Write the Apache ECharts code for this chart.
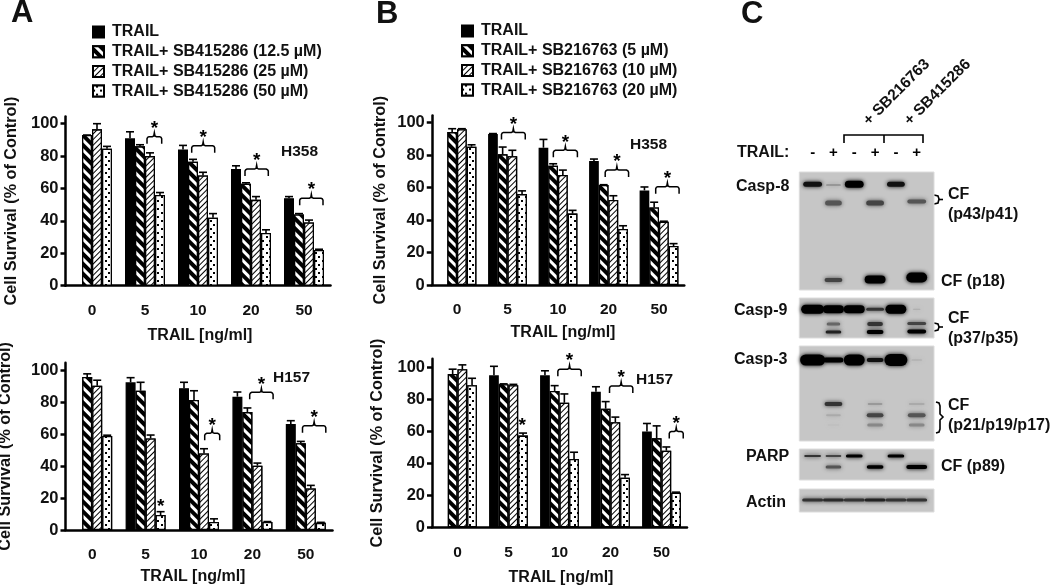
<!DOCTYPE html>
<html><head><meta charset="utf-8">
<style>html,body{margin:0;padding:0;background:#fff}#c{width:1050px;height:586px}</style>
<script src="https://cdn.jsdelivr.net/npm/echarts@6/dist/echarts.min.js"></script>
</head><body><div id="c"></div>
<script>
var doses = ['0','5','10','20','50'];
var namesA = ['TRAIL','TRAIL+ SB415286 (12.5 µM)','TRAIL+ SB415286 (25 µM)','TRAIL+ SB415286 (50 µM)'];
var namesB = ['TRAIL','TRAIL+ SB216763 (5 µM)','TRAIL+ SB216763 (10 µM)','TRAIL+ SB216763 (20 µM)'];
// values and upper error limits
var aTopV = [[null,91,84,72,54],[93,86,76.5,63,44],[96.5,80,68,53,39],[84.5,56,42,32.5,22]];
var aTopE = [[null,95,86.6,74,55],[93,87,78,63.5,44.5],[100,82,70,55,40.5],[86,57.5,44.5,34.5,22.5]];
var aBotV = [[null,92.7,89,83.7,66.5],[96,87.4,81.6,74,54.4],[90.6,57.5,48,40.4,26],[59,9.4,5,5,4.5]];
var aBotE = [[null,95.6,92.7,86.6,68.6],[98,92.7,87.4,76.6,55.6],[94,59.6,51,42,28],[59.5,11.5,7,5.3,4.8]];
var bTopV = [[null,93,84.6,76.4,58.3],[94.2,80.5,73.5,61.6,47.8],[96,79.3,67.8,52.4,39],[85.2,56,44,34.5,24]];
var bTopE = [[null,93.3,89.7,77.6,60.4],[96.3,85,74.7,61.8,51],[96.3,83,70.8,55,39.3],[86.4,58,46,36.5,25.5]];
var bBotV = [[null,95.2,95.2,84.8,60],[96,89.6,85.4,74.3,55.7],[99,89,78,65.8,48],[89,57.4,42.8,31,21.7]];
var bBotE = [[null,100.8,98,88,65],[99,89.8,88.7,78.7,63.5],[101.7,89.5,83.5,69,50.3],[93.3,59,47,33,22]];
// significance brackets: [dose index, left bar slot, right bar slot, level]
var aTopBr = [[1,1.7,3.17,92],[2,.87,3.17,86.4],[3,.9,3.23,72],[4,1.07,3.4,54]];
var aBotBr = [[2,2.07,3.57,60.7],[3,1.23,3.57,86.4],[4,1.17,3.5,65.5]];
var bTopBr = [[1,.88,3.33,94],[2,1.02,3.5,83],[3,1.16,3.57,70.8],[4,1.16,3.57,60.6]];
var bBotBr = [[2,1.33,3.74,99],[3,1.4,3.8,88.5],[4,2.3,3.74,60]];
// lone stars: [dose index, bar slot, level]
var aBotStar = [[1,3,16]];
var bBotStar = [[1,2.9,65]];
// blot panels: [top, bottom]; bands: [lane, position, lane width, thickness, gray]
var blotPanels = [[172,290],[298,338],[346,441],[449,480],[489,512]];
var blotBands = [
 [0,184.3,.95,6,'#111'],[1,185,.75,2,'#777'],[2,184.3,.95,8,'#000'],[4,184.3,.9,6,'#111'],
 [1,203,.85,6,'#555'],[3,203,.9,6,'#444'],[5,201.5,.95,5,'#555'],
 [1,280,.9,5,'#444'],[3,279.5,1.05,9,'#000'],[5,277.5,1.05,11,'#000'],
 [0,309.3,1.15,10,'#000'],[1,309.3,1.05,9,'#000'],[2,309.3,1.05,9,'#000'],[3,309.3,.9,4,'#333'],[4,309.3,1.05,10,'#000'],[5,309.3,.4,2,'#aaa'],
 [1,324,.7,4,'#666'],[3,324,.8,5,'#333'],[5,323.5,.95,4,'#444'],
 [1,332,.8,4,'#222'],[3,332,.85,5,'#000'],[5,331.5,.95,5,'#000'],
 [0,360,1.25,12,'#000'],[1,360,1,6,'#000'],[2,360,1.05,12,'#000'],[3,360,.85,5,'#111'],[4,360,1.15,13,'#000'],[5,360,.55,2,'#aaa'],
 [1,404,.9,5,'#333'],[3,404,.75,3,'#999'],[5,404,.8,3,'#aaa'],
 [1,415.3,.75,3,'#aaa'],[3,415.3,.85,5,'#444'],[5,415.3,.9,5,'#555'],
 [1,425,.6,2,'#bbb'],[3,425,.8,4,'#888'],[5,425,.8,4,'#888'],
 [0,456,.85,3,'#333'],[1,456,.8,3,'#444'],[2,456,.85,4,'#000'],[4,456,.85,4,'#000'],
 [1,467,.8,4,'#555'],[3,467,.85,4.5,'#000'],[5,467,1.05,5,'#000'],
 [0,500,1.05,4,'#333'],[1,500,1.05,4,'#2a2a2a'],[2,500,1.05,4,'#333'],[3,500,1.05,4,'#222'],[4,500,1.05,4,'#333'],[5,500,1.05,4,'#333']
];
var laneSigns = ['-','+','-','+','-','+'];

var FONT = '"Liberation Sans", Arial, sans-serif';
var wide = {symbol:'rect',symbolSize:1,dashArrayX:[1,0],dashArrayY:[4,3],rotation:Math.PI/4,color:'#000',backgroundColor:'#fff'};
var thin = {symbol:'rect',symbolSize:1,dashArrayX:[1,0],dashArrayY:[1,2.2],rotation:-Math.PI/4,color:'#000',backgroundColor:'#fff'};
var dots = {symbol:'rect',symbolSize:1,dashArrayX:[[1.6,4.4],[0,3,1.6,1.4]],dashArrayY:[1.6,1.4],rotation:0,color:'#000',backgroundColor:'#fff'};
var styles = [
 {color:'#000',borderColor:'#000',borderWidth:1.3},
 {color:'#fff',borderColor:'#000',borderWidth:1.3,decal:wide},
 {color:'#fff',borderColor:'#000',borderWidth:1.3,decal:thin},
 {color:'#fff',borderColor:'#000',borderWidth:1.3,decal:dots}
];

var panels = [
 {g:{left:65.5,top:116.4,width:265,height:169.3},max:104.5,bw:10,names:namesA,v:aTopV,e:aTopE,br:aTopBr,st:[],ng:46,xg:42,xp:[0,0,0,4]},
 {g:{left:65.5,top:362.7,width:267,height:167.3},max:105,bw:10,names:namesA,v:aBotV,e:aBotE,br:aBotBr,st:aBotStar,ng:52,xg:39,xp:[0,12,0,0]},
 {g:{left:431.75,top:115.4,width:252.5,height:169.6},max:104.5,bw:9.7,names:namesB,v:bTopV,e:bTopE,br:bTopBr,st:[],ng:43,xg:40,xp:[0,0,0,10]},
 {g:{left:432,top:358.8,width:255,height:168.5},max:105.5,bw:9.7,names:namesB,v:bBotV,e:bBotE,br:bBotBr,st:bBotStar,ng:46,xg:42,xp:[0,0,0,3]}
];
var grids=[],xAxes=[],yAxes=[],series=[];
panels.forEach(function(p,i){
 p.g.outerBoundsMode='none';
 grids.push(p.g);
 xAxes.push({type:'category',gridIndex:i,data:doses,name:'TRAIL [ng/ml]',nameLocation:'middle',nameGap:p.xg,nameMoveOverlap:false,
  nameTextStyle:{fontFamily:FONT,fontWeight:'bold',fontSize:16,color:'#111',padding:p.xp},
  axisTick:{show:false},axisLine:{lineStyle:{color:'#000',width:2.5}},
  axisLabel:{margin:17,fontFamily:FONT,fontWeight:'bold',fontSize:15.5,color:'#111',interval:0}});
 yAxes.push({type:'value',gridIndex:i,min:0,max:p.max,name:'Cell Survival (% of Control)',nameLocation:'middle',nameGap:p.ng,nameMoveOverlap:false,
  nameTextStyle:{fontFamily:FONT,fontWeight:'bold',fontSize:16.2,color:'#111'},
  splitLine:{show:false},
  axisLine:{show:true,onZero:false,lineStyle:{color:'#000',width:2.5}},
  axisTick:{show:true,length:5,customValues:[0,20,40,60,80,100],lineStyle:{color:'#000',width:2.5}},
  axisLabel:{margin:7,fontFamily:FONT,fontWeight:'bold',fontSize:16.5,color:'#111',customValues:[0,20,40,60,80,100]}});
 p.v.forEach(function(vals,s){
  series.push({type:'bar',name:p.names[s],xAxisIndex:i,yAxisIndex:i,barWidth:p.bw,barGap:'0%',data:vals,itemStyle:styles[s],silent:true,animation:false,z:2});
 });
 // error bars
 p.v.forEach(function(vals,s){
  var d=[];vals.forEach(function(v,c){if(v!=null)d.push([c,v,p.e[s][c]]);});
  series.push({type:'custom',xAxisIndex:i,yAxisIndex:i,silent:true,animation:false,z:1,data:d,encode:{x:0,y:[1,2]},clip:false,
   renderItem:function(params,api){
    var a=api.coord([api.value(0),api.value(1)]),b=api.coord([api.value(0),api.value(2)]);
    var x=a[0]+(s-1.5)*p.bw;
    return {type:'group',children:[
     {type:'line',shape:{x1:x,y1:a[1],x2:x,y2:b[1]},style:{stroke:'#000',lineWidth:1.6}},
     {type:'line',shape:{x1:x-4,y1:b[1],x2:x+4,y2:b[1]},style:{stroke:'#000',lineWidth:1.6}}]};
   }});
 });
 // brackets
 series.push({type:'custom',xAxisIndex:i,yAxisIndex:i,silent:true,animation:false,z:3,data:p.br,encode:{x:0,y:3},clip:false,
  renderItem:function(params,api){
   var c=api.coord([api.value(0),api.value(3)]);
   var L=c[0]+(api.value(1)-1.5)*p.bw,R=c[0]+(api.value(2)-1.5)*p.bw,y=c[1],m=(L+R)/2;
   var pts=[[L,y+7],[L,y+2],[L+.7,y+.7],[L+2,y],[m-2,y],[m-.6,y-.7],[m,y-4],[m+.6,y-.7],[m+2,y],[R-2,y],[R-.7,y+.7],[R,y+2],[R,y+7]];
   return {type:'group',children:[
    {type:'polyline',shape:{points:pts},style:{stroke:'#000',lineWidth:1.5,fill:null}},
    {type:'text',style:{x:m,y:y-8,text:'*',fill:'#000',font:'bold 19px '+FONT,align:'center',verticalAlign:'middle'}}]};
  }});
 if(p.st.length) series.push({type:'custom',xAxisIndex:i,yAxisIndex:i,silent:true,animation:false,z:3,data:p.st,encode:{x:0,y:2},clip:false,
  renderItem:function(params,api){
   var c=api.coord([api.value(0),api.value(2)]);
   return {type:'text',style:{x:c[0]+(api.value(1)-1.5)*p.bw,y:c[1]+2,text:'*',fill:'#000',font:'bold 19px '+FONT,align:'center',verticalAlign:'middle'}};
  }});
});
// blot grid: lanes across, migration position down
var bi=panels.length;
grids.push({left:799.3,top:0,width:134.7,height:586,outerBoundsMode:'none'});
xAxes.push({type:'value',gridIndex:bi,min:-.64,max:5.83,show:false});
yAxes.push({type:'value',gridIndex:bi,min:0,max:586,inverse:true,show:false});
series.push({type:'custom',xAxisIndex:bi,yAxisIndex:bi,silent:true,animation:false,z:1,data:blotPanels,encode:{y:[0,1]},clip:false,
 renderItem:function(params,api){
  var a=api.coord([-.64,api.value(0)]),b=api.coord([5.83,api.value(1)]);
  return {type:'rect',shape:{x:a[0],y:a[1],width:b[0]-a[0],height:b[1]-a[1]},style:{fill:'#c6c6c6',stroke:'#dcdcdc',lineWidth:1}};
 }});
series.push({type:'custom',xAxisIndex:bi,yAxisIndex:bi,silent:true,animation:false,z:2,
 data:blotBands.map(function(b){return b.slice(0,4);}),encode:{x:0,y:1},clip:false,
 renderItem:function(params,api){
  var gray=blotBands[params.dataIndex][4];
  var l=api.value(0),w=api.value(2);
  var a=api.coord([l-w/2,api.value(1)]),b=api.coord([l+w/2,api.value(1)]),h=api.value(3);
  return {type:'rect',shape:{x:a[0]+.5,y:a[1]-h/2+.5,width:b[0]-a[0]-1,height:h-1,r:h/2},style:{fill:gray,shadowColor:gray,shadowBlur:4}};
 }});
// lane sign labels
series.push({type:'custom',xAxisIndex:bi,yAxisIndex:bi,silent:true,animation:false,z:3,
 data:laneSigns.map(function(s,i){return [i,153];}),encode:{x:0,y:1},clip:false,
 renderItem:function(params,api){
  var c=api.coord([api.value(0),api.value(1)]);
  return {type:'text',style:{x:c[0],y:c[1],text:laneSigns[params.dataIndex],fill:'#000',font:'bold 15px '+FONT,align:'center',verticalAlign:'middle'}};
 }});

function t(x,y,text,size,extra){
 var o={type:'text',x:x,y:y,silent:true,style:{text:text,fill:'#111',font:'bold '+size+'px '+FONT,textAlign:'left',textVerticalAlign:'middle'}};
 if(extra)for(var k in extra)o[k]=extra[k];
 return o;
}
function stroke(pts){return {type:'polyline',silent:true,shape:{points:pts},style:{stroke:'#000',lineWidth:1.6,fill:null}};}
var graphics=[
 t(11,13,'A',31),t(376,14,'B',31),t(741,14,'C',31),
 t(281,152,'H358',15.5),t(273,378,'H157',15.5),t(630,145,'H358',15.5),t(636,380,'H157',15.5),
 t(737,153,'TRAIL:',16),
 t(736,187,'Casp-8',16),t(734,311,'Casp-9',16),t(734,360,'Casp-3',16),t(746,457,'PARP',16),t(746,503,'Actin',16),
 t(948,195,'CF',16),t(948,215,'(p43/p41)',16),t(941,282,'CF (p18)',16),
 t(948,319,'CF',16),t(948,339,'(p37/p35)',16),
 t(948,406,'CF',16),t(948,426,'(p21/p19/p17)',16),t(941,467,'CF (p89)',16),
 t(866,123,'+ SB216763',15.5,{rotation:Math.PI/4}),t(907,123,'+ SB415286',15.5,{rotation:Math.PI/4}),
 stroke([[844,143],[844,135],[923,135],[923,143]]),stroke([[884,135],[884,143]]),
 stroke([[934,195],[938,196],[939,199],[938,203],[934,204]]),stroke([[939,199.5],[943,199.5]]),
 stroke([[934,323],[938,324],[939,327],[938,330],[934,331]]),stroke([[939,327],[943,327]]),
 stroke([[936,402],[939,403],[940,406],[940,414],[943,417],[940,420],[940,429],[939,432],[936,433]])
];
function legend(names,left,top){
 return {data:names.map(function(n){return {name:n,icon:'rect'};}),orient:'vertical',left:left,top:top,itemWidth:11,itemHeight:11,itemGap:3.7,padding:0,selectedMode:false,
  textStyle:{fontFamily:FONT,fontWeight:'bold',fontSize:16,color:'#111',padding:[0,0,0,3],lineHeight:14}};
}
var chart=echarts.init(document.getElementById('c'),null,{renderer:'canvas'});
chart.setOption({animation:false,backgroundColor:'#fff',grid:grids,xAxis:xAxes,yAxis:yAxes,series:series,
 legend:[legend(namesA,92,24),legend(namesB,461,23)],graphic:graphics});
</script></body></html>
